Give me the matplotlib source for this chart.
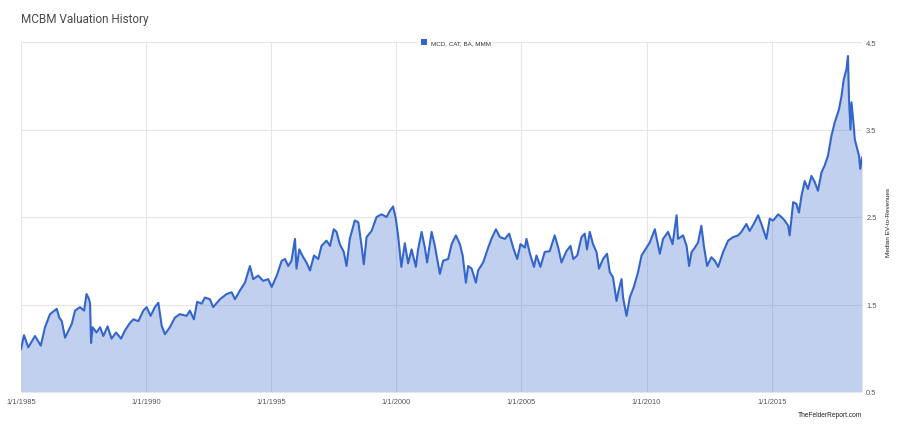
"""
MCBM valuation history: median EV-to-revenues of MCD, CAT, BA, MMM.
Values read off the reference chart (decimal years).
"""
import matplotlib.pyplot as plt
from matplotlib.patches import Patch

# data
years = [
    1985.00, 1985.12, 1985.29, 1985.56, 1985.79, 1985.96, 1986.16, 1986.43, 1986.53, 1986.63,
    1986.76, 1987.03, 1987.16, 1987.36, 1987.52, 1987.62, 1987.72, 1987.76, 1987.80, 1987.86,
    1988.02, 1988.16, 1988.29, 1988.46, 1988.62, 1988.80, 1989.00, 1989.15, 1989.33, 1989.49,
    1989.69, 1989.89, 1990.02, 1990.18, 1990.35, 1990.49, 1990.62, 1990.75, 1990.95, 1991.15,
    1991.35, 1991.62, 1991.75, 1991.91, 1992.04, 1992.22, 1992.35, 1992.55, 1992.68, 1992.95,
    1993.22, 1993.42, 1993.55, 1993.75, 1993.95, 1994.15, 1994.28, 1994.48, 1994.68, 1994.88,
    1995.02, 1995.22, 1995.42, 1995.55, 1995.68, 1995.81, 1995.95, 1996.01, 1996.12, 1996.28,
    1996.41, 1996.55, 1996.71, 1996.88, 1997.01, 1997.21, 1997.35, 1997.50, 1997.61, 1997.74,
    1997.90, 1998.01, 1998.14, 1998.34, 1998.48, 1998.61, 1998.70, 1998.81, 1999.01, 1999.21,
    1999.41, 1999.61, 1999.74, 1999.87, 1999.98, 2000.07, 2000.20, 2000.34, 2000.47, 2000.61,
    2000.78, 2000.87, 2001.01, 2001.14, 2001.23, 2001.41, 2001.54, 2001.74, 2001.87, 2002.07,
    2002.21, 2002.38, 2002.54, 2002.65, 2002.78, 2002.87, 2003.01, 2003.18, 2003.27, 2003.47,
    2003.67, 2003.80, 2003.98, 2004.14, 2004.34, 2004.51, 2004.67, 2004.83, 2004.96, 2005.14,
    2005.20, 2005.34, 2005.50, 2005.60, 2005.76, 2005.93, 2006.13, 2006.33, 2006.47, 2006.60,
    2006.80, 2006.96, 2007.07, 2007.23, 2007.40, 2007.53, 2007.62, 2007.73, 2007.86, 2008.00,
    2008.10, 2008.26, 2008.42, 2008.53, 2008.66, 2008.80, 2008.90, 2009.00, 2009.06, 2009.20,
    2009.33, 2009.49, 2009.66, 2009.80, 2010.00, 2010.13, 2010.33, 2010.53, 2010.66, 2010.86,
    2011.04, 2011.20, 2011.26, 2011.46, 2011.60, 2011.70, 2011.80, 2011.93, 2012.06, 2012.19,
    2012.29, 2012.42, 2012.59, 2012.73, 2012.86, 2013.06, 2013.26, 2013.46, 2013.66, 2013.79,
    2013.99, 2014.12, 2014.28, 2014.46, 2014.59, 2014.79, 2014.92, 2015.06, 2015.26, 2015.39,
    2015.52, 2015.66, 2015.72, 2015.86, 2015.99, 2016.09, 2016.19, 2016.32, 2016.45, 2016.59,
    2016.72, 2016.85, 2016.99, 2017.12, 2017.25, 2017.39, 2017.52, 2017.69, 2017.79, 2017.88,
    2017.99, 2018.05, 2018.09, 2018.15, 2018.19, 2018.28, 2018.32, 2018.39, 2018.49, 2018.54,
    2018.61,
]
ev_rev = [
    0.99, 1.15, 1.01, 1.14, 1.03, 1.24, 1.39, 1.45, 1.35, 1.31,
    1.12, 1.28, 1.43, 1.47, 1.43, 1.62, 1.56, 1.51, 1.06, 1.24,
    1.18, 1.24, 1.14, 1.25, 1.11, 1.18, 1.11, 1.20, 1.28, 1.33,
    1.31, 1.43, 1.47, 1.37, 1.47, 1.52, 1.26, 1.16, 1.24, 1.35,
    1.39, 1.37, 1.43, 1.33, 1.53, 1.51, 1.58, 1.56, 1.47, 1.56,
    1.62, 1.64, 1.56, 1.66, 1.75, 1.94, 1.79, 1.83, 1.77, 1.79,
    1.70, 1.83, 2.00, 2.02, 1.94, 2.00, 2.25, 1.91, 2.13, 2.04,
    1.98, 1.89, 2.06, 2.02, 2.17, 2.23, 2.17, 2.36, 2.33, 2.19,
    2.10, 1.94, 2.25, 2.46, 2.44, 2.17, 1.96, 2.27, 2.34, 2.50,
    2.53, 2.50, 2.57, 2.62, 2.48, 2.29, 1.93, 2.20, 1.97, 2.13,
    1.93, 2.13, 2.33, 2.15, 1.98, 2.33, 2.17, 1.85, 2.00, 2.02,
    2.19, 2.29, 2.19, 2.06, 1.75, 1.94, 1.91, 1.75, 1.89, 1.98,
    2.15, 2.25, 2.36, 2.27, 2.25, 2.31, 2.15, 2.02, 2.19, 2.15,
    2.25, 2.08, 1.93, 2.06, 1.93, 2.10, 2.11, 2.29, 2.15, 1.98,
    2.11, 2.17, 2.02, 2.06, 2.27, 2.31, 2.13, 2.33, 2.19, 2.10,
    1.91, 2.02, 2.08, 1.87, 1.81, 1.54, 1.68, 1.79, 1.58, 1.37,
    1.58, 1.70, 1.87, 2.06, 2.15, 2.21, 2.36, 2.08, 2.25, 2.33,
    2.19, 2.52, 2.25, 2.29, 2.17, 1.94, 2.10, 2.15, 2.21, 2.40,
    2.17, 1.94, 2.04, 2.00, 1.93, 2.10, 2.23, 2.27, 2.29, 2.33,
    2.42, 2.34, 2.42, 2.52, 2.42, 2.25, 2.48, 2.46, 2.53, 2.50,
    2.46, 2.40, 2.29, 2.67, 2.65, 2.55, 2.74, 2.91, 2.82, 2.97,
    2.90, 2.80, 3.01, 3.09, 3.20, 3.43, 3.58, 3.73, 3.88, 4.07,
    4.19, 4.34, 3.85, 3.50, 3.81, 3.54, 3.39, 3.31, 3.20, 3.05,
    3.18,
]
tick_years = [1985, 1990, 1995, 2000, 2005, 2010, 2015]
tick_labels = ['1/1/' + str(y) for y in tick_years]
y_ticks = [0.5, 1.5, 2.5, 3.5, 4.5]
series_name = 'MCD, CAT, BA, MMM'

# styling
blue = '#3366cc'
grid_c = '#e6e6e6'
txt_c = '#555555'

W, H = 900, 431
fig = plt.figure(figsize=(W / 100, H / 100), dpi=100)
ax = fig.add_axes([21 / W, 1 - 393 / H, (862 - 21) / W, (393 - 43) / H])

ax.fill_between(years, 0.5, ev_rev, color=blue, alpha=0.3, lw=0, zorder=2)
ax.plot(years, ev_rev, color=blue, lw=1.5, zorder=3)

ax.set_xlim(1985, 2018.61)
ax.set_ylim(0.5, 4.5)

ax.set_xticks(tick_years)
ax.set_xticklabels(tick_labels, family='Liberation Sans', fontsize=5.4, color=txt_c)
ax.set_yticks(y_ticks)
ax.set_yticklabels([str(v) for v in y_ticks], family='Liberation Sans', fontsize=5.4, color=txt_c)
ax.yaxis.tick_right()
ax.tick_params(axis='both', length=0)
ax.tick_params(axis='x', pad=4)
ax.tick_params(axis='y', pad=3)
ax.grid(True, color=grid_c, lw=0.8, zorder=0)
ax.set_axisbelow(True)
for s in ax.spines.values():
    s.set_visible(False)

# title, legend, axis label, footer
fig.text(21 / W, 1 - 19 / H, 'MCBM Valuation History', family='Roboto',
         fontsize=8.5, color='#4a4a4a', va='center', ha='left')
ax.legend(handles=[Patch(facecolor=blue, edgecolor='none')], labels=[series_name],
          loc='center', bbox_to_anchor=(456 / W, 1 - 43 / H), bbox_transform=fig.transFigure,
          frameon=True, facecolor='white', edgecolor='none', framealpha=1,
          prop={'family': 'Liberation Sans', 'size': 4.5}, labelcolor='#333333',
          handlelength=1.0, handleheight=1.0, handletextpad=0.6, borderpad=0.35)
fig.text(889 / W, 1 - 222 / H, 'Median EV-to-Revenues', family='Liberation Sans',
         fontsize=4.6, color='#222222', rotation=90, va='center', ha='center')
fig.text(862 / W, 1 - 416 / H, 'TheFelderReport.com', family='Liberation Sans',
         fontsize=4.8, color='#222222', va='center', ha='right')

fig.savefig('out.png', dpi=100)
